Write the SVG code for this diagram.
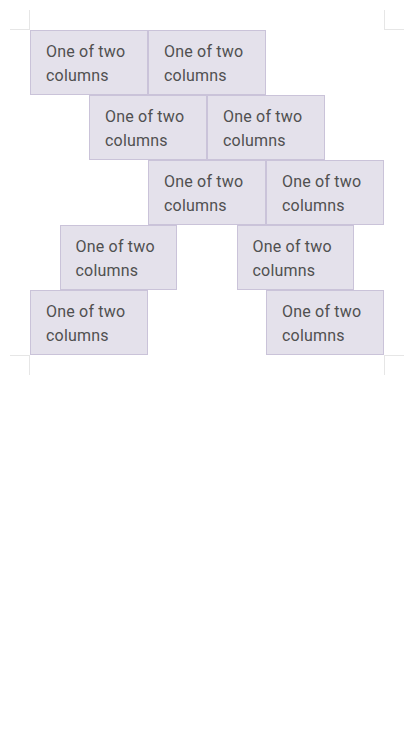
<svg xmlns="http://www.w3.org/2000/svg" width="414" height="736" viewBox="0 0 414 736">
<style>
.b{fill:#e4e1eb;stroke:#cac3d9;stroke-width:1}
.t{font-family:Roboto,"Liberation Sans",sans-serif;font-size:16px;fill:#505050;letter-spacing:0.2px}
.g{stroke:#e6e6e6;stroke-width:1;fill:none}
</style>
<rect width="414" height="736" fill="#fff"/>
<g id="guides">
<path class="g" d="M29.5 10V30M10 29.5H30M384.5 10V30M384 29.5H404M29.5 355V375M10 355.5H30M384.5 355V375M384 355.5H404"/>
</g>
<g id="connectors"></g>
<g id="r1c1"><rect class="b" x="30.5" y="30.5" width="117" height="64"/><text class="t" x="46" y="57">One of two</text><text class="t" x="46" y="81">columns</text></g>
<g id="r1c2"><rect class="b" x="148.5" y="30.5" width="117" height="64"/><text class="t" x="164" y="57">One of two</text><text class="t" x="164" y="81">columns</text></g>
<g id="r2c1"><rect class="b" x="89.5" y="95.5" width="117" height="64"/><text class="t" x="105" y="122">One of two</text><text class="t" x="105" y="146">columns</text></g>
<g id="r2c2"><rect class="b" x="207.5" y="95.5" width="117" height="64"/><text class="t" x="223" y="122">One of two</text><text class="t" x="223" y="146">columns</text></g>
<g id="r3c1"><rect class="b" x="148.5" y="160.5" width="117" height="64"/><text class="t" x="164" y="187">One of two</text><text class="t" x="164" y="211">columns</text></g>
<g id="r3c2"><rect class="b" x="266.5" y="160.5" width="117" height="64"/><text class="t" x="282" y="187">One of two</text><text class="t" x="282" y="211">columns</text></g>
<g id="r4c1"><rect class="b" x="60.5" y="225.5" width="116" height="64"/><text class="t" x="75.5" y="252">One of two</text><text class="t" x="75.5" y="276">columns</text></g>
<g id="r4c2"><rect class="b" x="237.5" y="225.5" width="116" height="64"/><text class="t" x="252.5" y="252">One of two</text><text class="t" x="252.5" y="276">columns</text></g>
<g id="r5c1"><rect class="b" x="30.5" y="290.5" width="117" height="64"/><text class="t" x="46" y="317">One of two</text><text class="t" x="46" y="341">columns</text></g>
<g id="r5c2"><rect class="b" x="266.5" y="290.5" width="117" height="64"/><text class="t" x="282" y="317">One of two</text><text class="t" x="282" y="341">columns</text></g>
</svg>
